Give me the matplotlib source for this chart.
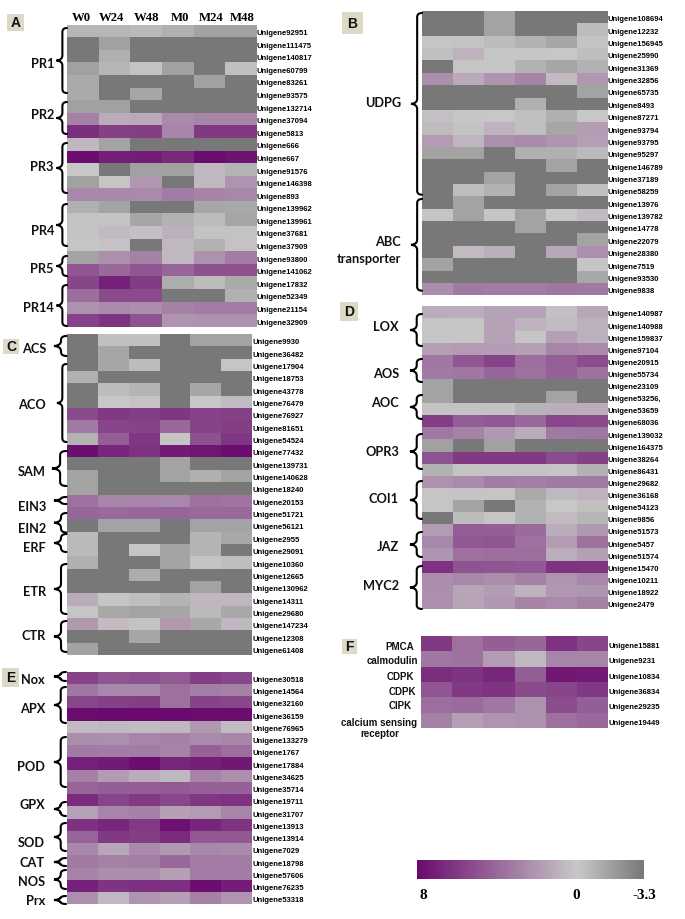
import matplotlib
matplotlib.use('Agg')
import matplotlib.pyplot as plt
from matplotlib.colors import LinearSegmentedColormap
from matplotlib.patches import PathPatch, Rectangle
from matplotlib.path import Path
from matplotlib.cm import ScalarMappable
from matplotlib.colors import Normalize

D = -3.3  # saturated grey cells

genes_a = [92951, 111475, 140817, 60799, 83261, 93575, 132714, 37094, 5813, 666, 667, 91576,
           146398, 893, 139962, 139961, 37681, 37909, 93800, 141062, 17832, 52349, 21154, 32909]
values_a = [
    [-0.7, -0.7, -0.6, -1, -1.5, -1.5],
    [D, -1.6, D, D, D, D],
    [D, -1, D, D, D, D],
    [-1.6, -0.7, -0.2, -1.6, D, -0.3],
    [-1.2, D, D, D, -1.6, D],
    [-1.2, D, -1.4, D, D, D],
    [-1.6, -1.6, D, D, D, D],
    [3, 1.2, 1.3, 2.6, 2.8, 2.8],
    [6.5, 5.7, 5.8, 2.8, 6, 6],
    [0.7, -1.5, D, D, D, D],
    [7.8, 7.1, 7.2, 6.7, 7.9, 7.6],
    [0, D, -1.6, -1.6, 0.7, -0.8],
    [-1.6, -0.1, 2, D, 0.7, 2.2],
    [2.7, 2.7, 2.6, 3.2, 2.9, 2.7],
    [-1, -1.5, D, D, -1.4, -1.3],
    [-0.2, -0.2, -1.4, -0.9, -0.5, -1.4],
    [-0.2, 0.6, 0.4, 1, -0.2, -0.2],
    [-0.1, 0.3, D, 0.7, -0.9, 0.3],
    [-1.5, 2.4, 3, 0.7, 2.3, 3.2],
    [4.8, 4, 4.8, 4.2, 5, 5],
    [5.5, 7, 5.9, -1.1, -0.5, -1.2],
    [3.8, 5.3, 5.3, D, D, -1],
    [2.3, 2.6, 2.5, 3, 3.2, 3.2],
    [5.6, 6.2, 4.9, 2.2, 2.3, 2.3],
]

genes_b = [108694, 12232, 156945, 25990, 31369, 32856, 65735, 8493, 87271, 93794, 93795, 95297,
           146789, 37189, 58259, 13976, 139782, 14778, 22079, 28380, 7519, 93530, 9838]
values_b = [
    [D, D, -1.5, D, D, D],
    [D, D, -1.5, D, D, -0.5],
    [-0.1, -0.2, -0.5, -0.9, -1.4, 0.2],
    [-0.3, 0.9, -0.1, -0.1, 0, -0.4],
    [D, -0.1, -0.1, -0.9, -1.4, -0.9],
    [2.4, 1.3, 2.2, 2.9, 0.6, 2],
    [D, D, D, D, D, -1.5],
    [D, D, D, -1, D, D],
    [0.4, 0.1, 0, -0.3, -1, 0],
    [-0.5, -0.2, 0.9, -0.3, -1.4, 1.8],
    [1.9, 0.8, 2.4, 2.6, 2.2, 1.7],
    [-1.5, -1.5, D, -1, -1, -0.6],
    [D, D, D, D, -1.5, D],
    [D, D, -1.5, D, D, D],
    [D, -0.4, -0.9, D, -1.5, -0.3],
    [D, -1.5, D, D, D, D],
    [-0.1, -1.5, -0.1, -1.5, 0, 0.6],
    [D, D, D, -1.5, D, D],
    [D, D, D, D, D, -1.5],
    [D, 0.6, 1.1, D, 1.4, 2.4],
    [-1.5, D, D, D, D, -0.1],
    [D, D, D, D, D, -1.3],
    [2.5, 3.3, 3.2, 3.2, 3.4, 3.3],
]

genes_c = [9930, 36482, 17904, 18753, 43778, 76479, 76927, 81651, 54524, 77432, 139731, 140628, 18240,
           20153, 51721, 56121, 2955, 29091, 10360, 12665, 130962, 14311, 29680, 147234, 12308, 61408]
values_c = [
    [D, -0.3, -0.3, D, -1.5, -1.5],
    [D, -1.4, D, D, D, D],
    [D, -1.4, -0.5, D, D, -0.1],
    [-1, D, D, D, D, D],
    [D, -0.5, -0.8, D, -1.4, D],
    [D, 0, 0.3, D, 0, 0.6],
    [5.3, 6, 5.8, 6.1, 5.6, 5.7],
    [3.3, 5.5, 5.6, 4, 5.6, 5.8],
    [-0.9, 4.5, 6.1, -0.1, 5, 6.1],
    [7.8, 6.8, 6.3, 7.3, 7.5, 7.9],
    [D, D, D, -1.5, D, D],
    [-1.5, D, D, -1.5, -1, -1.5],
    [-1.5, D, D, D, D, D],
    [3.7, 2.8, 2.8, 2.7, 3.7, 3.5],
    [4.2, 4, 4.2, 4.2, 4, 4],
    [D, -1.5, -1.5, D, -1.5, -1.5],
    [-0.6, D, D, D, -0.8, -1.3],
    [-0.6, D, -0.1, -1.5, -0.8, D],
    [-1, D, D, -1.5, -0.2, -0.4],
    [D, D, -1.1, D, D, D],
    [D, D, D, D, -1.5, D],
    [1.2, -0.1, -0.4, -0.8, 0.8, 0.8],
    [-0.1, -1.3, -1.5, -1.4, -0.6, -1.3],
    [2, 0.5, -0.2, 2, -1.3, 0.7],
    [D, D, -1.4, D, D, D],
    [-1.5, D, D, D, D, D],
]

genes_d = ['140987', '140988', '159837', '97104', '20915', '55734', '23109', '53256,', '53659', '68036',
           '139032', '164375', '38264', '86431', '29682', '36168', '54123', '9856', '51573', '5457',
           '51574', '15470', '10211', '18922', '2479']
values_d = [
    [1.2, 1.1, 1.6, 1.6, 0.4, 1.4],
    [-0.1, -0.1, 1.6, 0.9, 0.5, 1],
    [-0.1, -0.1, 1.6, -0.1, 1.7, 1],
    [1.7, 1.9, 1.8, 1.7, 2.8, 2.6],
    [3.4, 4.8, 5.6, 3.8, 4.4, 5.2],
    [3.3, 3.4, 4.2, 3.7, 4.3, 3.6],
    [-1.5, D, D, D, D, D],
    [-1.5, D, D, D, -1.5, D],
    [-0.2, -0.2, -0.2, -0.8, 1.1, 1.1],
    [5.8, 4.5, 4.7, 4, 5.4, 5.3],
    [3.4, 2.9, 2, 1.2, 3.3, 3.4],
    [-1.6, D, -1.6, D, D, D],
    [4.9, 6, 6, 6, 5.2, 5.7],
    [-0.9, -0.2, -0.2, -0.2, -0.1, -0.9],
    [2.3, 2.6, 3.2, 3.1, 3.3, 3.3],
    [-0.1, 0.2, -0.1, -1.2, 0.7, 0.9],
    [-0.1, -1.5, D, -0.9, 0, -0.3],
    [D, -0.5, -0.1, -0.9, 0.6, -0.7],
    [1.9, 4.5, 4.4, 3.9, 1.2, 2],
    [2.7, 4.7, 4.8, 3.7, 1.9, 3.6],
    [2.1, 3.7, 3.8, 3.8, 1.1, 1.7],
    [6.3, 4.9, 4.8, 4.7, 6.3, 6.2],
    [2.5, 2.7, 2.5, 3, 2.2, 2.7],
    [2.4, 1.5, 1.8, 0.9, 2, 2.1],
    [2.4, 1.5, 2, 2.9, 2.6, 3],
]

genes_e = [30518, 14564, 32160, 36159, 76965, 133279, 1767, 17884, 34625, 35714,
           19711, 31707, 13913, 13914, 7029, 18798, 57606, 76235, 53318]
values_e = [
    [5.6, 4.8, 5, 4.6, 5.8, 5.4],
    [3.4, 2.7, 2.7, 3.7, 3.1, 3],
    [5.4, 5.7, 5.8, 3.7, 5.6, 5.4],
    [7.9, 8, 8, 8, 7.9, 7.9],
    [0.5, 0.7, 0.5, 0.8, 2, 0.6],
    [2.5, 2.4, 2.8, 3, 2.6, 2.8],
    [3.3, 3.2, 3.2, 2.9, 4.3, 3.8],
    [7, 7.3, 7.9, 6.8, 7.1, 7.4],
    [3, 1.9, 1.2, 0.7, 2.9, 2.4],
    [4.2, 4.5, 4.5, 4.6, 4.3, 4.3],
    [6.6, 5.5, 6, 5.4, 6.1, 6.3],
    [1.6, 2.8, 3, 1.7, 1.9, 2.8],
    [6.3, 6.8, 6, 7.7, 6.8, 6.2],
    [4.2, 6, 5.8, 6.6, 4.7, 4.7],
    [2.7, 1.4, 2.6, 2, 2.7, 2.6],
    [3.3, 3, 3.1, 4, 3.2, 3.2],
    [2.9, 2.5, 2.5, 1.7, 3.2, 3.2],
    [7, 6.2, 6.4, 6.4, 7.8, 7.2],
    [2.4, 0.7, 2.2, 1.7, 3, 2.2],
]

genes_f = [15881, 9231, 10834, 36834, 29235, 19449]
values_f = [
    [6, 3.7, 4.4, 4.1, 6.3, 5.5],
    [3.4, 3.6, 1.9, 0.7, 2.8, 2.8],
    [6.5, 6.2, 6.8, 4.5, 7.4, 7.3],
    [4.8, 6, 6.2, 5.3, 5.5, 6],
    [3.8, 3.9, 3.4, 2.3, 5.2, 4.4],
    [3, 1.7, 2.2, 2.3, 3.7, 4],
]

columns = ['W0', 'W24', 'W48', 'M0', 'M24', 'M48']

W, H = 685, 920
fig = plt.figure(figsize=(W / 100, H / 100), dpi=100)

vmin, vmax = -3.3, 8
zero = (0 - vmin) / (vmax - vmin)
cmap = LinearSegmentedColormap.from_list(
    'gp', [(0, '#787878'), (zero, '#c8c8c8'), (1, '#6a0a6e')])
norm = Normalize(vmin, vmax)


def px_axes(x0, y0, x1, y1):
    return fig.add_axes([x0 / W, 1 - y1 / H, (x1 - x0) / W, (y1 - y0) / H])


def heat(box, genes, values):
    ax = px_axes(*box)
    ax.pcolormesh(values, cmap=cmap, norm=norm, edgecolors='none')
    ax.invert_yaxis()
    ax.set_xticks([])
    ax.yaxis.tick_right()
    ax.set_yticks([i + 0.55 for i in range(len(genes))])
    ax.set_yticklabels(['Unigene%s' % g for g in genes], family='Liberation Sans',
                       fontsize=5.5, fontweight='bold')
    ax.tick_params(axis='y', length=0, pad=0.2)
    for s in ax.spines.values():
        s.set_visible(False)
    return ax


heat((67.3, 25.7, 256.7, 327.7), genes_a, values_a)
heat((422, 12, 607.7, 296.3), genes_b, values_b)
heat((67, 335, 252, 656), genes_c, values_c)
heat((422, 307.3, 607.7, 610), genes_d, values_d)
heat((67, 672.7, 252, 905.3), genes_e, values_e)
heat((421, 637, 608.3, 729), genes_f, values_f)

# colour bar
cax = px_axes(417, 861, 644, 880)
cb = fig.colorbar(ScalarMappable(norm=norm, cmap=cmap), cax=cax, orientation='horizontal')
cax.invert_xaxis()
cb.set_ticks([])
cb.outline.set_visible(False)

# overlay in pixel coordinates for braces and annotation
ov = fig.add_axes([0, 0, 1, 1], zorder=5)
ov.set_xlim(0, W)
ov.set_ylim(H, 0)
ov.axis('off')
ov.patch.set_alpha(0)


def brace(tip, end, y0, y1):
    mid = (y0 + y1) / 2
    sp = tip + (end - tip) * 0.56
    r = min(4, (y1 - y0) / 4)
    t = min(5, (y1 - y0) / 3)
    C3, L = Path.CURVE3, Path.LINETO
    pts = [(end, y0), (sp, y0), (sp, y0 + r), (sp, mid - t), (sp, mid - 0.5), (tip, mid),
           (sp, mid + 0.5), (sp, mid + t), (sp, y1 - r), (sp, y1), (end, y1)]
    codes = [Path.MOVETO, C3, C3, L, C3, C3, C3, C3, L, C3, C3]
    ov.add_patch(PathPatch(Path(pts, codes), fc='none', ec='black', lw=1.5, capstyle='round',
                           joinstyle='miter'))


def label(x, y, s, ha='right', fs=9.2):
    ov.text(x, y, s, ha=ha, va='center', family='Lato', fontweight='bold', fontsize=fs, color='#111111')


def tag(x0, y0, x1, y1, s):
    ov.add_patch(Rectangle((x0, y0), x1 - x0, y1 - y0, fc='#dcd9c6', ec='none'))
    ov.text((x0 + x1) / 2, (y0 + y1) / 2, s, ha='center', va='center', family='Liberation Sans',
            fontweight='bold', fontsize=10, color='#111111')


# panel A
for y0, y1 in [(29, 94), (103, 135), (144, 194), (205, 247), (257, 277), (286, 327)]:
    brace(56.5, 67, y0, y1)
for y, s in [(64, 'PR1'), (115, 'PR2'), (167, 'PR3'), (231, 'PR4'), (269, 'PR5'), (308, 'PR14')]:
    label(54, y, s)

# panel B
for y0, y1 in [(14, 195.7), (200, 291.7)]:
    brace(411, 422, y0, y1)
for y, s in [(102.7, 'UDPG'), (241.7, 'ABC'), (259, 'transporter')]:
    label(401, y, s)

# panel C
for tip, y0, y1 in [(54, 337, 357), (57, 365, 443), (52, 452, 487), (54, 498, 505), (54, 514, 533.5),
                    (54, 535, 553), (54, 565, 615), (54, 622, 653)]:
    brace(tip, 66.5, y0, y1)
for y, s in [(349, 'ACS'), (405, 'ACO'), (472, 'SAM'), (507, 'EIN3'), (529, 'EIN2'), (548, 'ERF'),
             (592, 'ETR'), (636, 'CTR')]:
    label(46, y, s)

# panel D
for y0, y1 in [(315, 347), (360, 383), (396, 420), (435, 470), (482, 520), (533, 558), (567, 610)]:
    brace(410, 422, y0, y1)
for y, s in [(327, 'LOX'), (374, 'AOS'), (403, 'AOC'), (452, 'OPR3'), (499, 'COI1'), (547, 'JAZ'), (586, 'MYC2')]:
    label(399, y, s)

# panel E
for y0, y1 in [(673, 682), (688, 724), (738, 788), (803, 817), (824, 852), (859, 867), (871, 890), (897, 905)]:
    brace(54, 66, y0, y1)
for y, s in [(680, 'Nox'), (709, 'APX'), (767, 'POD'), (805, 'GPX'), (843, 'SOD'), (863, 'CAT'),
             (882, 'NOS'), (901, 'Prx')]:
    label(45, y, s)

# panel F
for x, y, s in [(400, 646.7, 'PMCA'), (392.7, 661, 'calmodulin'), (400.7, 676.7, 'CDPK'), (402, 691.7, 'CDPK'),
                (400, 706, 'CIPK'), (379, 723, 'calcium sensing'), (380, 734, 'receptor')]:
    ov.text(x, y, s, ha='center', va='center', family='Liberation Sans', fontweight='bold',
            fontsize=7, color='#111111')

tag(7, 15, 23.7, 31.7, 'A')
tag(342, 13, 363, 35, 'B')
tag(3, 340, 19, 355, 'C')
tag(340, 303, 358, 322, 'D')
tag(2, 669, 19, 688, 'E')
tag(342, 640, 357, 655, 'F')

# column headers
for x, s in zip([81, 112, 147, 180, 211, 242], columns):
    ov.text(x, 18, s, ha='center', va='center', family='Liberation Serif', fontweight='bold', fontsize=9.2)

# colour bar labels
for x, s in [(423, '8'), (575.7, '0'), (644, '-3.3')]:
    ov.text(x, 895.7, s, ha='center', va='center', family='Liberation Serif', fontweight='bold', fontsize=11)

fig.savefig('out.png', dpi=100)
